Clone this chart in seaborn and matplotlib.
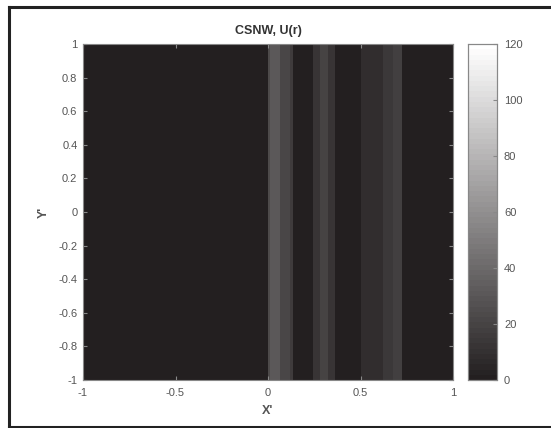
import numpy as np
import pandas as pd
import matplotlib
matplotlib.use("Agg")
import matplotlib.pyplot as plt
from matplotlib.colors import ListedColormap
from matplotlib.lines import Line2D
import seaborn as sns

# ---- data (U(r) profile, constant along Y') ----
seg_edges = [-1.0, 0.0, 0.011, 0.065, 0.119, 0.135, 0.243, 0.281, 0.324, 0.362,
             0.503, 0.622, 0.676, 0.724, 1.0]
seg_values = [1, 24, 31, 21, 16, 1, 12, 20, 12, 1, 9, 14, 18, 1]
x_ticks = [-1, -0.5, 0, 0.5, 1]
x_tick_labels = ["-1", "-0.5", "0", "0.5", "1"]
y_ticks = [1, 0.8, 0.6, 0.4, 0.2, 0, -0.2, -0.4, -0.6, -0.8, -1]
y_tick_labels = ["1", "0.8", "0.6", "0.4", "0.2", "0", "-0.2", "-0.4", "-0.6", "-0.8", "-1"]
cbar_ticks = [0, 20, 40, 60, 80, 100, 120]
title = "CSNW, U(r)"

# ---- build grid table from the segment arrays ----
ncols, nrows = 740, 20
xc = -1 + (np.arange(ncols) + 0.5) * 2 / ncols
idx = np.clip(np.searchsorted(seg_edges, xc, side="right") - 1, 0, len(seg_values) - 1)
row = np.array(seg_values, dtype=float)[idx]
grid = pd.DataFrame(np.tile(row, (nrows, 1)))

plt.rcParams["font.family"] = ["Liberation Sans", "DejaVu Sans"]
W, H = 551, 428
fig = plt.figure(figsize=(W / 100, H / 100), dpi=100)
ax = fig.add_axes([83 / W, 1 - 380 / H, (453 - 83) / W, (380 - 44) / H])
cax = fig.add_axes([468 / W, 1 - 380 / H, (497 - 468) / W, (380 - 44) / H])

dark = np.array([0x23, 0x1f, 0x20]) / 255
levels = np.linspace(0, 1, 64)[:, None]
cols = dark[None, :] * (1 - levels) + levels
cmap = ListedColormap(cols)

sns.heatmap(grid, ax=ax, cbar_ax=cax, cmap=cmap, vmin=0, vmax=120,
            xticklabels=False, yticklabels=False, rasterized=True,
            cbar_kws={"ticks": cbar_ticks})

gray = "#555555"
ax.set_xticks([(x + 1) / 2 * ncols for x in x_ticks])
ax.set_xticklabels(x_tick_labels)
ax.set_yticks([(1 - y) / 2 * nrows for y in y_ticks])
ax.set_yticklabels(y_tick_labels, rotation=0)
for s in ax.spines.values():
    s.set_visible(True)
    s.set_color("#888888")
    s.set_linewidth(0.8)
ax.tick_params(direction="in", length=3, color="#888888", labelcolor=gray,
               labelsize=8, top=True, right=True, pad=4)
ax.tick_params(axis="x", pad=6)
ax.set_xlabel("X'", fontsize=9, fontweight="bold", color=gray, labelpad=5)
ax.set_ylabel("Y'", fontsize=9, fontweight="bold", color=gray, labelpad=6)
ax.set_title(title, fontsize=9, fontweight="bold", color="#333333", pad=7)

cax.tick_params(direction="in", length=3, color="#888888", labelcolor=gray,
                labelsize=8, pad=5)
cax.set_yticklabels([str(t) for t in cbar_ticks])
for s in cax.spines.values():
    s.set_visible(True)
    s.set_color("#888888")
    s.set_linewidth(0.8)
cb = ax.collections[0].colorbar
cb.outline.set_visible(True)
cb.outline.set_edgecolor("#888888")
cb.outline.set_linewidth(0.8)

# figure frame (left, top, bottom only)
xl, yt, yb = 8.5 / W, 1 - 7 / H, 1.5 / H
for xs, ys in [([xl, xl], [yb, yt]), ([xl, 1.0], [yt, yt]), ([xl, 1.0], [yb, yb])]:
    fig.add_artist(Line2D(xs, ys, transform=fig.transFigure, color="#222222",
                          linewidth=2.2, solid_capstyle="projecting"))

fig.savefig("out.png", dpi=100)
